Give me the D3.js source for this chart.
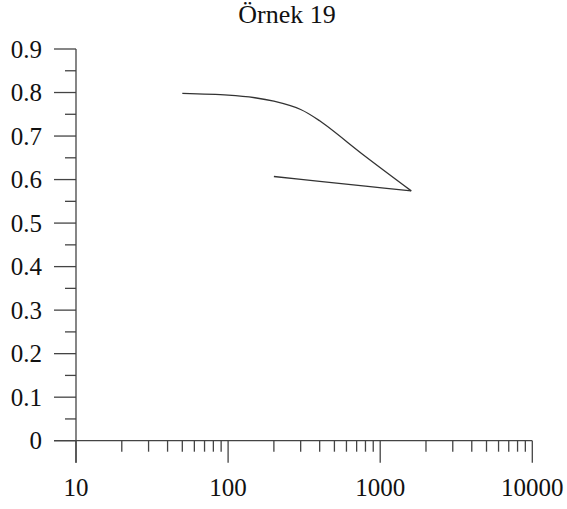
<!DOCTYPE html>
<html>
<head>
<meta charset="utf-8">
<script src="https://d3js.org/d3.v7.min.js"></script>
<style>
  body { margin: 0; background: #fff; }
</style>
</head>
<body>
<div id="chart"></div>
<script>
// e - log p : loading branch then unloading branch
const loadP = [50, 100, 150, 200, 300, 400, 800, 1600];
const loadE = [0.798, 0.794, 0.788, 0.780, 0.761, 0.735, 0.653, 0.574];
const unloadP = [1600, 800, 400, 200];
const unloadE = [0.574, 0.585, 0.596, 0.607];
const yTicks = [0, 0.1, 0.2, 0.3, 0.4, 0.5, 0.6, 0.7, 0.8, 0.9];
const xTicks = [10, 100, 1000, 10000];
const title = "Örnek 19";

const width = 567, height = 509;
const margin = {top: 49, right: 35, bottom: 68, left: 76};
const serif = "'Liberation Serif', 'Times New Roman', Times, serif";

const svg = d3.select("#chart").append("svg")
    .attr("width", width)
    .attr("height", height)
    .attr("font-family", serif);

const x = d3.scaleLog()
    .domain([10, 10000])
    .range([margin.left, 532.3]);

const y = d3.scaleLinear()
    .domain([0, 0.9])
    .range([440.7, margin.top]);

const axisColor = "#444";

// title
svg.append("text")
    .attr("x", 287)
    .attr("y", 23)
    .attr("text-anchor", "middle")
    .style("font-family", serif)
    .style("font-size", "26px")
    .attr("fill", "#111")
    .text(title);

// y axis
const yAxis = svg.append("g");
yAxis.append("line")
    .attr("x1", x(10)).attr("x2", x(10))
    .attr("y1", y(0.9)).attr("y2", y(0) + 22)
    .attr("stroke", axisColor).attr("stroke-width", 1.3);

// minor ticks every 0.05
const yMinor = d3.range(0, 9).map(i => i / 10 + 0.05);
yAxis.selectAll(".minor")
    .data(yMinor)
    .enter().append("line")
    .attr("x1", x(10) - 11).attr("x2", x(10))
    .attr("y1", d => y(d)).attr("y2", d => y(d))
    .attr("stroke", axisColor).attr("stroke-width", 1.3);

yAxis.selectAll(".major")
    .data(yTicks)
    .enter().append("line")
    .attr("x1", x(10) - 22).attr("x2", x(10))
    .attr("y1", d => y(d)).attr("y2", d => y(d))
    .attr("stroke", axisColor).attr("stroke-width", 1.3);

yAxis.selectAll(".lab")
    .data(yTicks)
    .enter().append("text")
    .attr("x", 42)
    .attr("y", d => y(d))
    .attr("dy", "0.35em")
    .attr("text-anchor", "end")
    .style("font-family", serif)
    .style("font-size", "25px")
    .attr("fill", "#111")
    .text(d => d === 0 ? "0" : d3.format(".1f")(d));

// x axis
const xAxis = svg.append("g");
xAxis.append("line")
    .attr("x1", x(10) - 22).attr("x2", x(10000))
    .attr("y1", y(0)).attr("y2", y(0))
    .attr("stroke", axisColor).attr("stroke-width", 1.3);

const xMinor = [];
[10, 100, 1000].forEach(dec => {
    for (let k = 2; k <= 9; k++) xMinor.push(dec * k);
});
xAxis.selectAll(".minor")
    .data(xMinor)
    .enter().append("line")
    .attr("x1", d => x(d)).attr("x2", d => x(d))
    .attr("y1", y(0)).attr("y2", y(0) + 11)
    .attr("stroke", axisColor).attr("stroke-width", 1.3);

xAxis.selectAll(".major")
    .data(xTicks)
    .enter().append("line")
    .attr("x1", d => x(d)).attr("x2", d => x(d))
    .attr("y1", y(0)).attr("y2", y(0) + 22)
    .attr("stroke", axisColor).attr("stroke-width", 1.3);

xAxis.selectAll(".lab")
    .data(xTicks)
    .enter().append("text")
    .attr("x", d => x(d))
    .attr("y", 496)
    .attr("text-anchor", "middle")
    .style("font-family", serif)
    .style("font-size", "25px")
    .attr("fill", "#111")
    .text(d => d);

// curve
const line = d3.line()
    .x(d => x(d[0]))
    .y(d => y(d[1]))
    .curve(d3.curveCatmullRom.alpha(0.5));

const loadData = loadP.map((p, i) => [p, loadE[i]]);
const unloadData = unloadP.map((p, i) => [p, unloadE[i]]).reverse();

svg.append("path")
    .datum(loadData)
    .attr("d", line)
    .attr("fill", "none")
    .attr("stroke", "#333")
    .attr("stroke-width", 1.3);

svg.append("path")
    .datum(unloadData)
    .attr("d", line)
    .attr("fill", "none")
    .attr("stroke", "#333")
    .attr("stroke-width", 1.3);
</script>
</body>
</html>
